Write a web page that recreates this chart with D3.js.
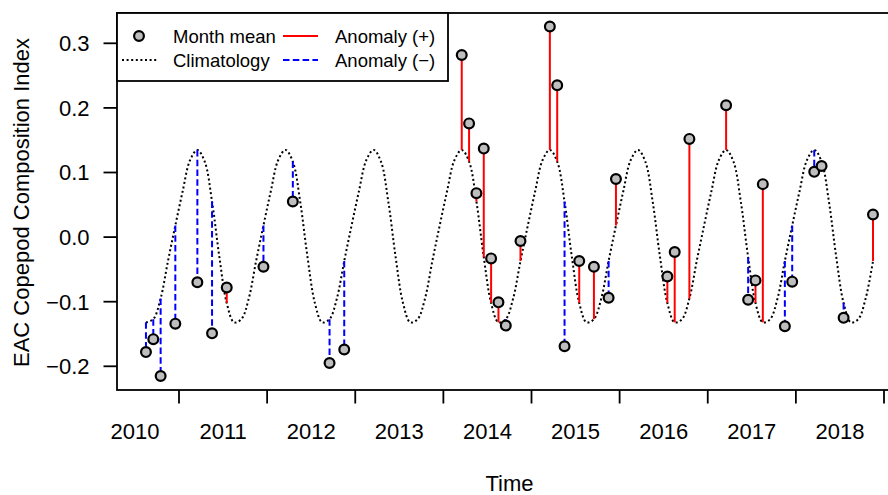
<!DOCTYPE html>
<html>
<head>
<meta charset="utf-8">
<script src="https://cdn.jsdelivr.net/npm/d3@7"></script>
<style>
  html, body { margin: 0; padding: 0; background: #fff; }
  svg { display: block; }
  text { font-family: "Liberation Sans", Arial, Helvetica, sans-serif; fill: #000; }
</style>
</head>
<body>
<svg id="chart" width="888" height="495"></svg>
<script>
// ---- data ----
// observation dates as [year, month]
const obsYears  = [2010,2010,2010,2010, 2011,2011,2011,2011, 2012,2012,2012,
                   2014,2014,2014,2014,2014,2014,2014,2014,
                   2015,2015,2015,2015,2015,2015,2015,
                   2016,2016,2016,
                   2017,2017,2017,2017,2017,2017,
                   2018,2018,2018,2018];
const obsMonths = [8,9,10,12, 3,5,7,12, 4,9,11,
                   3,4,5,6,7,8,9,11,
                   3,4,5,7,9,11,12,
                   7,8,10,
                   3,6,7,8,11,12,
                   3,4,7,11];
const monthMean = [-0.178,-0.158,-0.215,-0.134, -0.070,-0.149,-0.078,-0.046, 0.055,-0.195,-0.174,
                   0.282,0.176,0.068,0.137,-0.033,-0.101,-0.137,-0.006,
                   0.326,0.235,-0.169,-0.037,-0.046,-0.094,0.090,
                   -0.061,-0.023,0.152,
                   0.204,-0.097,-0.067,0.082,-0.138,-0.069,
                   0.101,0.110,-0.125,0.035];
// monthly climatology, Jan..Dec
const climatology = [0.071, 0.119, 0.135, 0.117, 0.055, -0.031, -0.102, -0.132, -0.127, -0.095, -0.037, 0.018];

const yTicks = [-0.2, -0.1, 0.0, 0.1, 0.2, 0.3];
const yTickLabels = ["\u22120.2", "\u22120.1", "0.0", "0.1", "0.2", "0.3"];
const xTickYears = [2011, 2012, 2013, 2014, 2015, 2016, 2017, 2018, 2019];
const xLabelYears = [2010, 2011, 2012, 2013, 2014, 2015, 2016, 2017, 2018];

const legendItems = ["Month mean", "Climatology", "Anomaly (+)", "Anomaly (\u2212)"];

// ---- layout ----
const svg = d3.select("#chart");
const plot = { left: 117, top: 13, right: 902, bottom: 390 };

const x = d3.scaleLinear().domain([2011, 2019]).range([179, 884]);
const y = d3.scaleLinear().domain([-0.2, 0.3]).range([366.3, 43.3]);

const tOf = (yr, m) => yr + (m - 0.5) / 12;

const obs = obsYears.map((yr, i) => ({
  t: tOf(yr, obsMonths[i]),
  v: monthMean[i],
  c: climatology[obsMonths[i] - 1]
}));

// climatology curve across the observed period (monthly nodes)
const climPts = [];
{
  let yr = obsYears[0], m = obsMonths[0];
  const endYr = obsYears[obsYears.length - 1], endM = obsMonths[obsMonths.length - 1];
  while (yr < endYr || (yr === endYr && m <= endM)) {
    climPts.push({ t: tOf(yr, m), c: climatology[m - 1] });
    m++; if (m > 12) { m = 1; yr++; }
  }
}

svg.append("defs").append("clipPath").attr("id", "clip")
  .append("rect").attr("x", plot.left).attr("y", plot.top)
  .attr("width", plot.right - plot.left).attr("height", plot.bottom - plot.top);

const g = svg.append("g").attr("clip-path", "url(#clip)");

// climatology line
g.append("path")
  .datum(climPts)
  .attr("fill", "none")
  .attr("stroke", "#000")
  .attr("stroke-width", 2)
  .attr("stroke-dasharray", "2,2.6")
  .attr("d", d3.line().x(d => x(d.t)).y(d => y(d.c)).curve(d3.curveCatmullRom.alpha(0.5)));

// anomaly segments
g.selectAll("line.anom")
  .data(obs)
  .enter().append("line")
  .attr("class", "anom")
  .attr("x1", d => x(d.t)).attr("x2", d => x(d.t))
  .attr("y1", d => y(d.c)).attr("y2", d => y(d.v))
  .attr("stroke", d => d.v >= d.c ? "#FF0000" : "#0000FF")
  .attr("stroke-width", 2)
  .attr("stroke-dasharray", d => d.v >= d.c ? null : "6.5,3.3");

// points
g.selectAll("circle.pt")
  .data(obs)
  .enter().append("circle")
  .attr("class", "pt")
  .attr("cx", d => x(d.t)).attr("cy", d => y(d.v))
  .attr("r", 4.9)
  .attr("fill", "#BEBEBE")
  .attr("stroke", "#000")
  .attr("stroke-width", 2.2);

// plot box
svg.append("rect")
  .attr("x", plot.left).attr("y", plot.top)
  .attr("width", plot.right - plot.left).attr("height", plot.bottom - plot.top)
  .attr("fill", "none").attr("stroke", "#000").attr("stroke-width", 1.8);

// y axis
const yAxis = svg.append("g");
yAxis.selectAll("line").data(yTicks).enter().append("line")
  .attr("x1", plot.left - 13.5).attr("x2", plot.left)
  .attr("y1", d => y(d)).attr("y2", d => y(d))
  .attr("stroke", "#000").attr("stroke-width", 1.8);
yAxis.selectAll("text").data(yTicks).enter().append("text")
  .attr("x", 89.5).attr("y", d => y(d) + 7.9)
  .attr("text-anchor", "end")
  .style("font-size", "22px")
  .text((d, i) => yTickLabels[i]);

// x axis
const xAxis = svg.append("g");
xAxis.selectAll("line").data(xTickYears).enter().append("line")
  .attr("x1", d => x(d)).attr("x2", d => x(d))
  .attr("y1", plot.bottom).attr("y2", plot.bottom + 13.5)
  .attr("stroke", "#000").attr("stroke-width", 1.8);
xAxis.selectAll("text").data(xLabelYears).enter().append("text")
  .attr("x", d => x(d + 0.5)).attr("y", 439.3)
  .attr("text-anchor", "middle")
  .style("font-size", "22px")
  .text(d => String(d));

// axis titles
svg.append("text")
  .attr("x", (plot.left + plot.right) / 2).attr("y", 491)
  .attr("text-anchor", "middle").style("font-size", "22px")
  .text("Time");
svg.append("text")
  .attr("transform", `translate(29,${(plot.top + plot.bottom) / 2 + 1}) rotate(-90)`)
  .attr("text-anchor", "middle").style("font-size", "22px")
  .text("EAC Copepod Composition Index");

// legend
const lg = svg.append("g");
lg.append("rect")
  .attr("x", plot.left).attr("y", plot.top)
  .attr("width", 331).attr("height", 68)
  .attr("fill", "#fff").attr("stroke", "#000").attr("stroke-width", 1.8);
const row1 = 36, row2 = 60;
lg.append("circle").attr("cx", 139).attr("cy", row1).attr("r", 4.9)
  .attr("fill", "#BEBEBE").attr("stroke", "#000").attr("stroke-width", 2.2);
lg.append("line").attr("x1", 122).attr("x2", 157).attr("y1", row2).attr("y2", row2)
  .attr("stroke", "#000").attr("stroke-width", 2).attr("stroke-dasharray", "2,2.6");
lg.append("line").attr("x1", 283).attr("x2", 318).attr("y1", row1).attr("y2", row1)
  .attr("stroke", "#FF0000").attr("stroke-width", 2);
lg.append("line").attr("x1", 283).attr("x2", 318).attr("y1", row2).attr("y2", row2)
  .attr("stroke", "#0000FF").attr("stroke-width", 2).attr("stroke-dasharray", "6.5,3.3");
const legPos = [[173, row1], [173, row2], [335, row1], [335, row2]];
lg.selectAll("text").data(legendItems).enter().append("text")
  .attr("x", (d, i) => legPos[i][0]).attr("y", (d, i) => legPos[i][1] + 6.8)
  .style("font-size", "18.5px")
  .text(d => d);
</script>
</body>
</html>
